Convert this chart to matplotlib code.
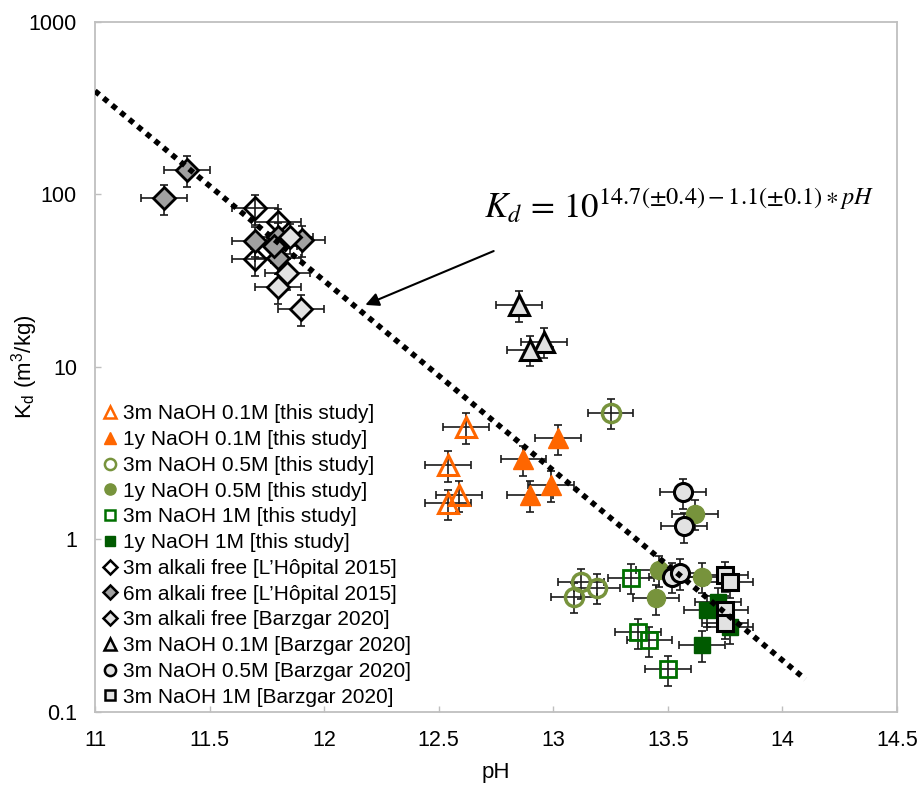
import numpy as np
import matplotlib
matplotlib.use('Agg')
import matplotlib.pyplot as plt
from matplotlib.lines import Line2D

plt.rcParams['font.family'] = ['Liberation Sans', 'DejaVu Sans']
plt.rcParams['mathtext.fontset'] = 'stix'

# Kd (m3/kg) against pH for each sample set
ph_3m_01 = [12.62, 12.54, 12.59, 12.54]
kd_3m_01 = [4.5, 2.7, 1.81, 1.62]

ph_1y_01 = [13.02, 12.87, 12.99, 12.90]
kd_1y_01 = [3.86, 2.92, 2.07, 1.81]

ph_3m_05 = [13.25, 13.12, 13.19, 13.09]
kd_3m_05 = [5.43, 0.565, 0.525, 0.466]

ph_1y_05 = [13.62, 13.46, 13.65, 13.45]
kd_1y_05 = [1.41, 0.666, 0.61, 0.456]

ph_3m_1 = [13.34, 13.37, 13.42, 13.50]
kd_3m_1 = [0.60, 0.29, 0.26, 0.177]

ph_1y_1 = [13.72, 13.67, 13.65, 13.77]
kd_1y_1 = [0.436, 0.39, 0.245, 0.31]

ph_lh_3m = [11.70, 11.80, 11.70]
kd_lh_3m = [83, 69, 42]

ph_lh_6m = [11.40, 11.30, 11.70, 11.80, 11.905, 11.80, 11.78]
kd_lh_6m = [139, 95, 54, 57, 54.5, 43, 50]

ph_bz_af = [11.85, 11.84, 11.80, 11.90]
kd_bz_af = [56.5, 35, 29, 21.7]

ph_bz_01 = [12.85, 12.96, 12.90]
kd_bz_01 = [22.9, 14, 12.6]

ph_bz_05 = [13.565, 13.57, 13.52, 13.555]
kd_bz_05 = [1.88, 1.19, 0.61, 0.64]

ph_bz_1 = [13.75, 13.77, 13.75, 13.75]
kd_bz_1 = [0.62, 0.57, 0.39, 0.33]

# uncertainties: +-0.1 pH unit, +-20 % on Kd
ph_err = 0.1
kd_rel_err = 0.2

# log-linear fit  log10(Kd) = a + b*pH
fit_a = 14.7
fit_b = -1.1
fit_ph = [11.0, 14.1]

x_ticks = [11, 11.5, 12, 12.5, 13, 13.5, 14, 14.5]
x_labels = ['11', '11.5', '12', '12.5', '13', '13.5', '14', '14.5']
y_ticks = [0.1, 1, 10, 100, 1000]
y_labels = ['0.1', '1', '10', '100', '1000']

orange = '#FF6600'
olive = '#77933C'
dkgreen = '#005A00'
green = '#007000'
gray = '#A0A0A0'
pattern = '#E2E2E2'

series = [
    (ph_3m_01, kd_3m_01, dict(marker='^', ms=14.5, mfc='none', mec=orange, mew=2.2),
     '3m NaOH 0.1M [this study]'),
    (ph_1y_01, kd_1y_01, dict(marker='^', ms=14.5, mfc=orange, mec=orange, mew=1),
     '1y NaOH 0.1M [this study]'),
    (ph_3m_05, kd_3m_05, dict(marker='o', ms=13, mfc='none', mec=olive, mew=2.5),
     '3m NaOH 0.5M [this study]'),
    (ph_1y_05, kd_1y_05, dict(marker='o', ms=13, mfc=olive, mec=olive, mew=1),
     '1y NaOH 0.5M [this study]'),
    (ph_3m_1, kd_3m_1, dict(marker='s', ms=12, mfc='none', mec=green, mew=2),
     '3m NaOH 1M [this study]'),
    (ph_1y_1, kd_1y_1, dict(marker='s', ms=12, mfc=dkgreen, mec=dkgreen, mew=1),
     '1y NaOH 1M [this study]'),
    (ph_lh_3m, kd_lh_3m, dict(marker='D', ms=11.5, mfc='none', mec='black', mew=2),
     '3m alkali free [L\u2019H\u00f4pital 2015]'),
    (ph_lh_6m, kd_lh_6m, dict(marker='D', ms=11.5, mfc=gray, mec='black', mew=2),
     '6m alkali free [L\u2019H\u00f4pital 2015]'),
    (ph_bz_af, kd_bz_af, dict(marker='D', ms=11.5, mfc=pattern, mec='black', mew=2),
     '3m alkali free [Barzgar 2020]'),
    (ph_bz_01, kd_bz_01, dict(marker='^', ms=14.5, mfc=pattern, mec='black', mew=2.2),
     '3m NaOH 0.1M [Barzgar 2020]'),
    (ph_bz_05, kd_bz_05, dict(marker='o', ms=13, mfc=pattern, mec='black', mew=2.2),
     '3m NaOH 0.5M [Barzgar 2020]'),
    (ph_bz_1, kd_bz_1, dict(marker='s', ms=12, mfc=pattern, mec='black', mew=2.2),
     '3m NaOH 1M [Barzgar 2020]'),
]

fig = plt.figure(figsize=(9.21, 7.91), dpi=100)
ax = fig.add_axes([0.1031, 0.0999, 0.8708, 0.8723])

handles = []
for ph, kd, style, label in series:
    ph = np.array(ph)
    kd = np.array(kd)
    ax.errorbar(ph, kd, xerr=ph_err, yerr=kd * kd_rel_err, fmt='none',
                ecolor='#1a1a1a', elinewidth=1.2, capsize=3.2, capthick=1.2, zorder=2)
    ax.plot(ph, kd, linestyle='none', zorder=3, **style)
    leg_style = dict(style)
    leg_style['ms'] = style['ms'] * 0.62
    leg_style['mew'] = min(style['mew'], 1.8)
    handles.append(Line2D([], [], linestyle='none', label=label, **leg_style))

# fitted trend
fx = np.array(fit_ph)
ax.plot(fx, 10 ** (fit_a + fit_b * fx), color='black', lw=4,
        linestyle=(0, (1, 1)), dash_capstyle='butt', zorder=5)

ax.set_yscale('log')
ax.set_xlim(11, 14.5)
ax.set_ylim(0.1, 1000)
ax.set_xticks(x_ticks, x_labels)
ax.set_yticks(y_ticks, y_labels)
ax.minorticks_off()
ax.tick_params(direction='in', length=4, width=1, color='#BFBFBF',
               labelsize=15.5, pad=13, top=False, right=False)
for sp in ax.spines.values():
    sp.set_color('#BFBFBF')
    sp.set_linewidth(1.3)

ax.set_xlabel('pH', fontsize=16, labelpad=8)
ax.set_ylabel('K$_\\mathregular{d}$ (m$^\\mathregular{3}$/kg)', fontsize=16)
ax.yaxis.set_label_coords(-0.068, 0.5)

ax.text(14.40, 73, r'$K_d\,=\,10^{14.7(\pm0.4)-1.1(\pm0.1)\ast pH}$',
        fontsize=25, ha='right', va='baseline')
ax.annotate('', xy=(12.18, 22.9), xytext=(12.74, 47),
            arrowprops=dict(arrowstyle='-|>', color='black', lw=1.5,
                            mutation_scale=20, shrinkA=0, shrinkB=0))

ax.legend(handles=handles, loc='upper left', bbox_to_anchor=(0.0, 0.458),
          frameon=False, fontsize=15, handlelength=0.6, handletextpad=0.35,
          labelspacing=0.325, borderaxespad=0)

fig.savefig('out.png', dpi=100)
